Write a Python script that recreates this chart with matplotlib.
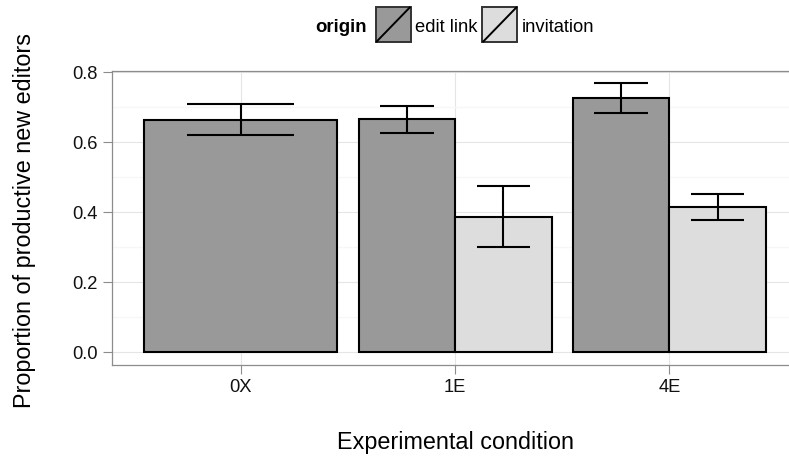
import matplotlib
matplotlib.use("Agg")
import matplotlib.pyplot as plt
from matplotlib.patches import Rectangle
from matplotlib.lines import Line2D

plt.rcParams['font.family'] = ['Liberation Sans', 'DejaVu Sans']

# proportion of productive new editors by condition and origin
conditions = ["0X", "1E", "4E"]
edit_mean = [0.664, 0.666, 0.726]
edit_lo = [0.621, 0.626, 0.685]
edit_hi = [0.709, 0.705, 0.769]
inv_conditions = ["1E", "4E"]
inv_mean = [0.387, 0.415]
inv_lo = [0.300, 0.378]
inv_hi = [0.475, 0.453]

fill_edit = "#999999"
fill_inv = "#dddddd"
lw = 1.5

W, H = 789, 457
fig = plt.figure(figsize=(W / 100, H / 100), dpi=100)
ax = fig.add_axes([112.3 / W, 1 - 365 / H, (798 - 112.3) / W, (365 - 70.7) / H])

xpos = {c: i + 1 for i, c in enumerate(conditions)}
has_inv = set(inv_conditions)

# edit link bars (full width when there is no invitation group)
for c, m, lo, hi in zip(conditions, edit_mean, edit_lo, edit_hi):
    if c in has_inv:
        x, w, cw = xpos[c] - 0.225, 0.45, 0.25
    else:
        x, w, cw = xpos[c], 0.9, 0.5
    ax.bar(x, m, width=w, color=fill_edit, edgecolor="black", linewidth=lw, zorder=3)
    ax.vlines(x, lo, hi, color="black", linewidth=lw, zorder=4)
    ax.hlines([lo, hi], x - cw / 2, x + cw / 2, color="black", linewidth=lw, zorder=4)

for c, m, lo, hi in zip(inv_conditions, inv_mean, inv_lo, inv_hi):
    x = xpos[c] + 0.225
    ax.bar(x, m, width=0.45, color=fill_inv, edgecolor="black", linewidth=lw, zorder=3)
    ax.vlines(x, lo, hi, color="black", linewidth=lw, zorder=4)
    ax.hlines([lo, hi], x - 0.125, x + 0.125, color="black", linewidth=lw, zorder=4)

ax.set_xlim(0.4, 3.6)
ax.set_ylim(-0.0363, 0.8046)
ax.set_xticks([1, 2, 3])
ax.set_xticklabels(conditions)
ax.set_yticks([0.0, 0.2, 0.4, 0.6, 0.8])
ax.set_yticklabels(["0.0", "0.2", "0.4", "0.6", "0.8"])
ax.set_yticks([0.1, 0.3, 0.5, 0.7], minor=True)

ax.grid(True, which="major", color="#e5e5e5", linewidth=0.8, zorder=0)
ax.grid(True, which="minor", axis="y", color="#f7f7f7", linewidth=1.0, zorder=0)
ax.set_axisbelow(True)

for s in ax.spines.values():
    s.set_color("#8c8c8c")
    s.set_linewidth(0.9)

ax.tick_params(axis="both", which="major", direction="out", length=6.3, width=0.8,
               color="#8c8c8c", labelsize=13.2, labelcolor="#111111", pad=4)
ax.tick_params(axis="both", which="minor", length=0)

ax.set_xlabel("Experimental condition", fontsize=16.8, va="center")
ax.xaxis.set_label_coords(0.5, (365 - 443) / (365 - 70.7))
ax.set_ylabel("Proportion of productive new editors", fontsize=16.8, va="center")
ax.yaxis.set_label_coords((25 - 112.3) / (798 - 112.3), 0.49)


# legend along the top
def fx(px):
    return px / W


def fy(py):
    return 1 - py / H


fig.text(fx(315), fy(32), "origin", fontsize=13.4, fontweight="bold", va="baseline")
keys = [("edit link", fill_edit, 375.7, 415), ("invitation", fill_inv, 482.3, 521.7)]
for label, col, kx, tx in keys:
    fig.add_artist(Rectangle((fx(kx), fy(42.3)), 35 / W, 35.6 / H, transform=fig.transFigure,
                             facecolor=col, edgecolor="#333333", linewidth=1.4))
    fig.add_artist(Line2D([fx(kx + 1), fx(kx + 34)], [fy(41.5), fy(7.5)],
                          transform=fig.transFigure, color="black", linewidth=1.4))
    fig.text(fx(tx), fy(32), label, fontsize=13.2, va="baseline")

fig.savefig("out.png", dpi=100)
